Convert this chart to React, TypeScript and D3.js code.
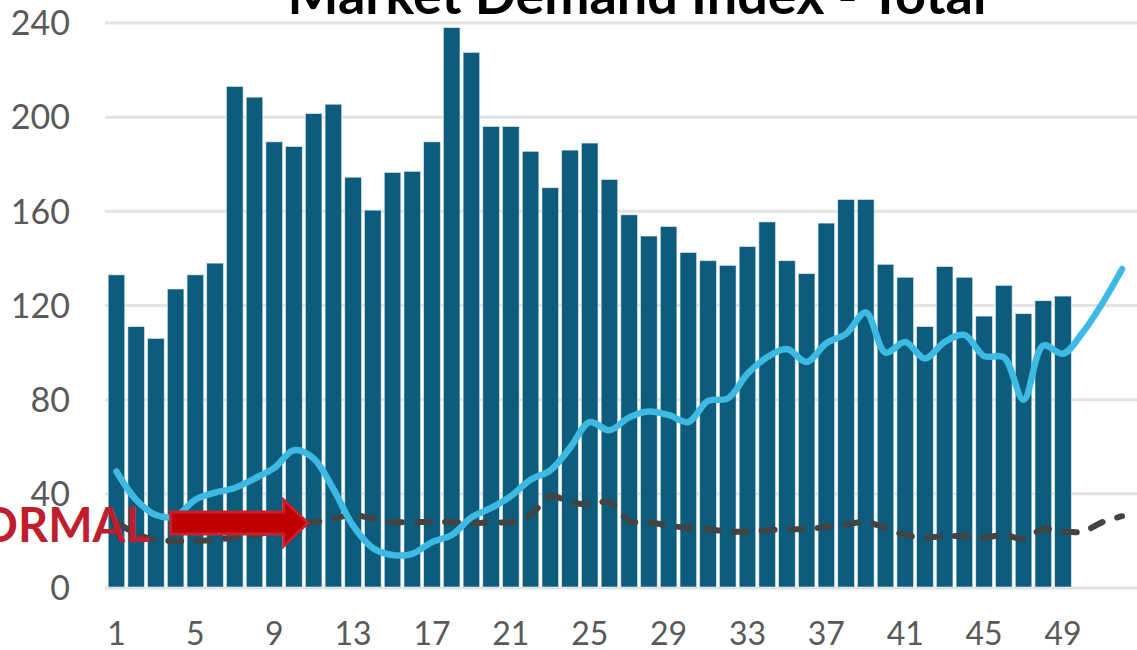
import React, { useEffect, useRef } from 'react';
import * as d3 from 'd3';

// weeks 1..52 on the x axis, bars only reported up to week 49
const weeks = d3.range(1, 53);
const tickWeeks = [1, 5, 9, 13, 17, 21, 25, 29, 33, 37, 41, 45, 49];
const yTicks = [0, 40, 80, 120, 160, 200, 240];

const demandBars = [
  133, 111, 106, 127, 133, 138, 213, 208.5, 189.5, 187.5, 201.5, 205.5, 174.5, 160.5, 176.5, 177,
  189.5, 238, 227.5, 196, 196, 185.5, 170, 186, 189, 173.5, 158.5, 149.5, 153.5, 142.5, 139, 137,
  145, 155.5, 139, 133.5, 155, 165, 165, 137.5, 132, 111, 136.5, 132, 115.5, 128.5, 116.5, 122, 124,
];

const currentLine = [
  49.5, 37.5, 31, 30.5, 37.5, 40.5, 42.5, 46.5, 51, 58.5, 55, 42, 26.5, 17, 14, 14.5, 19.5, 22.5,
  30, 34, 39, 46, 50, 59.5, 70.5, 67, 72.5, 75, 73.5, 70.5, 79.5, 80.5, 91, 98, 101.5, 96, 104,
  108, 117, 100, 104.5, 97.5, 104.5, 107.5, 98.5, 98, 80, 103, 99.5, 108.5, 121, 135.5,
];

const normalLine = [
  28, 23, 20.5, 20, 20, 20.5, 21.5, 22.5, 24.5, 27, 28, 29.5, 31, 29.5, 28, 28, 28, 28, 27.5, 28,
  28, 31, 39, 36.5, 35.5, 36.5, 28.5, 28, 26.5, 25.5, 25, 24, 24, 24.5, 25, 25, 26, 27, 28, 25.5,
  22.5, 21.5, 22, 22, 21.5, 22.5, 21, 25, 24, 24, 28, 30.5,
];

// "NORMAL" arrow annotation, in week / index units
const arrowFrom = 3.75;
const arrowTo = 10.7;
const arrowLevel = 27.6;

const title = 'Market Demand Index - Total';
const font = 'Lato, "Open Sans", sans-serif';

const App = () => {
  const ref = useRef<SVGSVGElement | null>(null);

  useEffect(() => {
    const width = 1137;
    const height = 650;
    const svg = d3.select(ref.current);
    svg.selectAll('*').remove();

    const x = d3.scaleBand<number>()
      .domain(weeks)
      .range([106.6, 1132])
      .paddingInner(0.16)
      .paddingOuter(0.08);

    const y = d3.scaleLinear().domain([0, 240]).range([588, 23]);

    const cx = (w: number) => (x(w) as number) + x.bandwidth() / 2;
    // continuous position for fractional weeks (annotation)
    const xc = (w: number) => cx(1) + (w - 1) * x.step();

    // gridlines
    svg.append('g')
      .selectAll('line')
      .data(yTicks)
      .join('line')
      .attr('x1', 105)
      .attr('x2', width)
      .attr('y1', d => y(d))
      .attr('y2', d => y(d))
      .attr('stroke', '#e3e3e3')
      .attr('stroke-width', 3);

    // bars
    svg.append('g')
      .selectAll('rect')
      .data(demandBars)
      .join('rect')
      .attr('x', (d, i) => x(weeks[i]) as number)
      .attr('width', x.bandwidth())
      .attr('y', d => y(d))
      .attr('height', d => y(0) - y(d) - 1)
      .attr('fill', '#0d5c7b')
      .attr('stroke', '#dbe7ee')
      .attr('stroke-width', 0.6);

    const line = d3.line<number>()
      .x((d, i) => cx(weeks[i]))
      .y(d => y(d))
      .curve(d3.curveCatmullRom.alpha(0.5));

    svg.append('path')
      .datum(normalLine)
      .attr('d', line)
      .attr('fill', 'none')
      .attr('stroke', '#434343')
      .attr('stroke-width', 6)
      .attr('stroke-dasharray', '13,15')
      .attr('stroke-linecap', 'round');

    svg.append('path')
      .datum(currentLine)
      .attr('d', line)
      .attr('fill', 'none')
      .attr('stroke', '#3dbae3')
      .attr('stroke-width', 6.5)
      .attr('stroke-linecap', 'round')
      .attr('stroke-linejoin', 'round');

    // arrow
    const ax0 = xc(arrowFrom);
    const ax1 = xc(arrowTo);
    const ay = y(arrowLevel);
    const headLen = 24;
    const shaftH = 11;
    const headH = 23;
    const arrowPts: [number, number][] = [
      [ax0, ay - shaftH],
      [ax1 - headLen, ay - shaftH],
      [ax1 - headLen, ay - headH],
      [ax1, ay],
      [ax1 - headLen, ay + headH],
      [ax1 - headLen, ay + shaftH],
      [ax0, ay + shaftH],
    ];
    svg.append('path')
      .attr('d', 'M' + arrowPts.map(p => p.join(',')).join('L') + 'Z')
      .attr('fill', '#c00000')
      .attr('stroke', '#c8202c')
      .attr('stroke-width', 3)
      .attr('stroke-linejoin', 'miter');

    svg.append('text')
      .attr('x', ax0 - 21)
      .attr('y', ay + 19)
      .attr('text-anchor', 'end')
      .attr('font-family', font)
      .attr('font-weight', 'bold')
      .attr('font-size', 47)
      .attr('fill', '#be1e2d')
      .text('NORMAL');

    // y axis labels
    svg.append('g')
      .selectAll('text')
      .data(yTicks)
      .join('text')
      .attr('x', 70)
      .attr('y', d => y(d))
      .attr('dy', '0.36em')
      .attr('text-anchor', 'end')
      .attr('font-family', font)
      .attr('font-size', 34)
      .attr('fill', '#595959')
      .text(d => d);

    // x axis labels
    svg.append('g')
      .selectAll('text')
      .data(tickWeeks)
      .join('text')
      .attr('x', d => cx(d))
      .attr('y', 645)
      .attr('text-anchor', 'middle')
      .attr('font-family', font)
      .attr('font-size', 32)
      .attr('fill', '#595959')
      .text(d => d);

    // title (cropped at the top)
    svg.append('text')
      .attr('x', 637)
      .attr('y', 14)
      .attr('text-anchor', 'middle')
      .attr('font-family', font)
      .attr('font-weight', 'bold')
      .attr('font-size', 54)
      .attr('fill', '#000000')
      .text(title);

    svg.attr('width', width).attr('height', height);
  }, []);

  return (
    <svg
      ref={ref}
      width={1137}
      height={650}
      style={{ position: 'absolute', left: 0, top: 0, background: '#ffffff' }}
    />
  );
};

export default App;
